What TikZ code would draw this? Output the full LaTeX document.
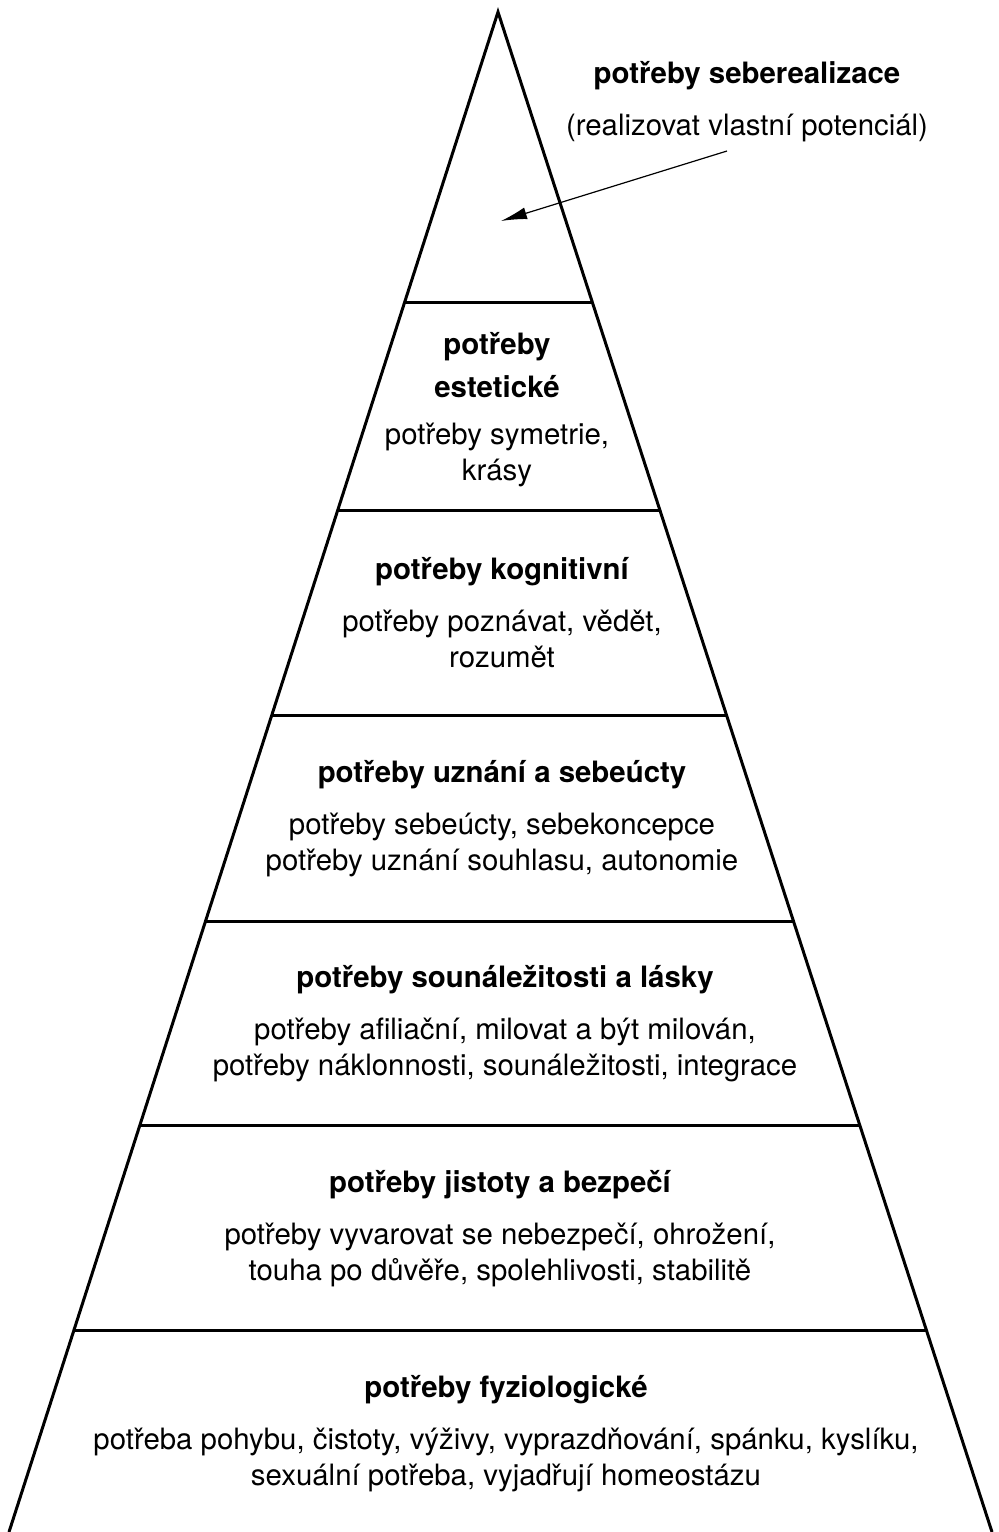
\documentclass[tikz,border=0pt]{standalone}
\usepackage{fontspec}
\setmainfont{TeX Gyre Heros}
\usepackage{tikz}
\usetikzlibrary{arrows.meta,calc,positioning}

\begin{document}
\begin{tikzpicture}[x=0.5pt,y=-0.5pt,>={Latex[length=13pt,width=6pt]}]
	\tikzstyle{title} = [font=\fontsize{14.7}{18}\selectfont\bfseries, align=center, inner sep=0pt, anchor=base]
	\tikzstyle{desc} = [font=\fontsize{14.7}{18}\selectfont, align=center, inner sep=0pt]
	\tikzstyle{pyr} = [line width=1.5pt, line join=miter]
	
	\useasboundingbox (0,0) rectangle (999,1532);
	
	\coordinate (apex) at (498,12);
	\coordinate (bl) at (9,1532);
	\coordinate (br) at (992,1532);
	\draw [pyr] (bl) -- (apex) -- (br);
	\foreach \y in {303,511,716,921,1126,1330}
		\draw [pyr] ($(apex)!{(\y-12)/1520}!(bl)$) -- ($(apex)!{(\y-12)/1520}!(br)$);
	
	\node [title] (selfreal) at (747,83) {potřeby seberealizace};
	\node [desc, below = 12pt of selfreal] (selfrealtxt) {(realizovat vlastní potenciál)};
	\coordinate (tail) at (727,151);
	\coordinate (tip) at (501,221);
	\draw [->, line width=0.6pt] (tail) -- (tip);
	
	\node [title] (aesth) at (497,397) {potřeby\\[3.5pt]estetické};
	\node [desc, below = 12.5pt of aesth] (aesthtxt) {potřeby symetrie,\\krásy};
	
	\node [title] (cogn) at (502,579) {potřeby kognitivní};
	\node [desc, below = 12pt of cogn] (cogntxt) {potřeby poznávat, vědět,\\rozumět};
	
	\node [title] (esteem) at (502,782) {potřeby uznání a sebeúcty};
	\node [desc, below = 12pt of esteem] (esteemtxt) {potřeby sebeúcty, sebekoncepce\\potřeby uznání souhlasu, autonomie};
	
	\node [title] (love) at (505,987) {potřeby sounáležitosti a lásky};
	\node [desc, below = 12pt of love] (lovetxt) {potřeby afiliační, milovat a být milován,\\potřeby náklonnosti, sounáležitosti, integrace};
	
	\node [title] (safety) at (500,1192) {potřeby jistoty a bezpečí};
	\node [desc, below = 12pt of safety] (safetytxt) {potřeby vyvarovat se nebezpečí, ohrožení,\\touha po důvěře, spolehlivosti, stabilitě};
	
	\node [title] (phys) at (506,1397) {potřeby fyziologické};
	\node [desc, below = 12pt of phys] (phystxt) {potřeba pohybu, čistoty, výživy, vyprazdňování, spánku, kyslíku,\\sexuální potřeba, vyjadřují homeostázu};
	
\end{tikzpicture}
\end{document}
